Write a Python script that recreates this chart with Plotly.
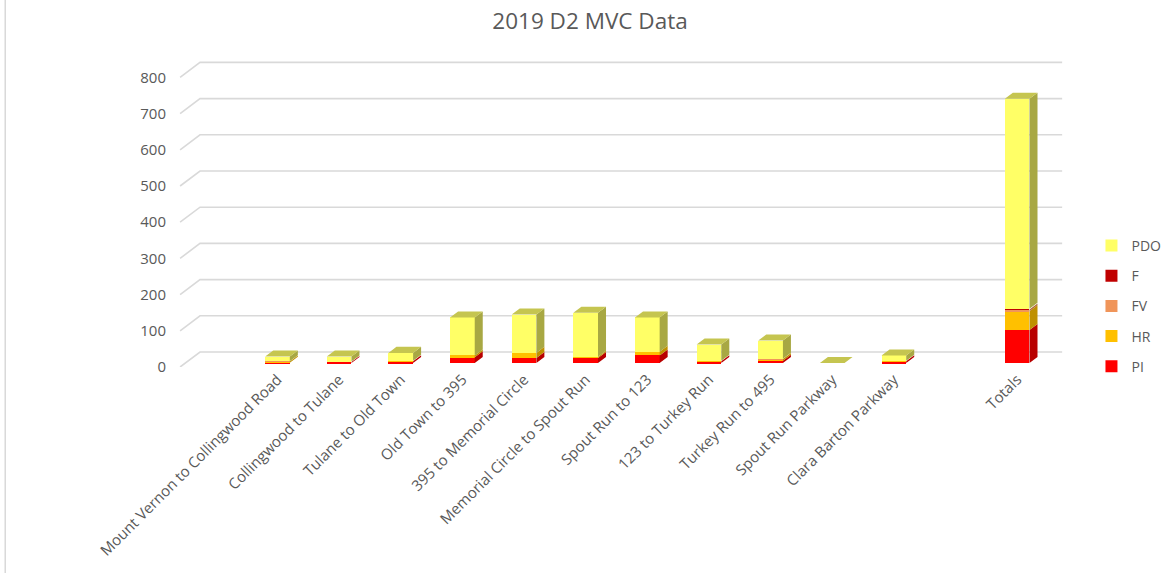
import plotly.graph_objects as go

categories = [" ", "Mount Vernon to Collingwood Road", "Collingwood to Tulane", "Tulane to Old Town",
              "Old Town to 395", "395 to Memorial Circle", "Memorial Circle to Spout Run",
              "Spout Run to 123", "123 to Turkey Run", "Turkey Run to 495", "Spout Run Parkway",
              "Clara Barton Parkway", "  ", "Totals"]
PI  = [None, 1, 3, 5, 16, 14, 14, 21, 5, 6, 0, 5, None, 91]
HR  = [None, 3, 1, 1, 5, 14, 3, 10, 1, 5, 0, 1, None, 52]
FV  = [None, 1, 0, 0, 0, 0, 0, 0, 0, 1, 0, 0, None, 5]
F   = [None, 0, 0, 0, 0, 0, 0, 0, 0, 0, 0, 0, None, 2]
PDO = [None, 13, 14, 22, 105, 106, 122, 95, 45, 50, 0, 15, None, 580]
y_ticks = [0, 100, 200, 300, 400, 500, 600, 700, 800]

series = [  # name, values, front colour, side colour, legend rank
    ("PI", PI, "#FF0000", "#B80000", 5),
    ("HR", HR, "#FFC000", "#BF9000", 4),
    ("FV", FV, "#F0955A", "#B36A3A", 3),
    ("F", F, "#C00000", "#8A0000", 2),
    ("PDO", PDO, "#FFFF66", "#A8A843", 1),
]
TOP_COLOR = "#C5C550"

BAR_W = 0.4
DX = 0.13     # depth offset in category units
DY = 16.6     # depth offset in value units
GRID_BACK_DX = 0.323
GRID_BACK_DY = 30.4
GRID_FRONT_DY = -11
X_LEFT = -0.58
X_RIGHT = 13.73

xs = list(range(len(categories)))
fig = go.Figure()

# back-wall gridlines (3D look), drawn beneath the bars
shapes = []
for v in y_ticks:
    path = (f"M {X_LEFT},{v + GRID_FRONT_DY} L {X_LEFT + GRID_BACK_DX},{v + GRID_BACK_DY} "
            f"L {X_RIGHT},{v + GRID_BACK_DY}")
    shapes.append(dict(type="path", xref="x", yref="y", path=path, layer="below",
                       line=dict(color="#D9D9D9", width=1.6)))

# front faces
for name, vals, col, side, rank in series:
    fig.add_trace(go.Bar(x=xs, y=vals, name=name, width=BAR_W, marker=dict(color=col, line=dict(width=0)),
                         legendgroup=name, legendrank=rank))

# side and top faces
base = [0 if PI[i] is not None else None for i in xs]
for name, vals, col, side, rank in series:
    px, py = [], []
    for i in xs:
        if vals[i] is None:
            continue
        s0 = base[i]
        s1 = s0 + vals[i]
        if vals[i] > 0:
            xr = i + BAR_W / 2
            px += [xr, xr + DX, xr + DX, xr, xr, None]
            py += [s0, s0 + DY, s1 + DY, s1, s0, None]
        base[i] = s1
    fig.add_trace(go.Scatter(x=px, y=py, mode="lines", fill="toself", fillcolor=side,
                             line=dict(width=0, color=side), hoverinfo="skip", showlegend=False))

tx, ty = [], []
for i in xs:
    if base[i] is None:
        continue
    t = base[i]
    xl, xr = i - BAR_W / 2, i + BAR_W / 2
    tx += [xl, xr, xr + DX, xl + DX, xl, None]
    ty += [t, t, t + DY, t + DY, t, None]
fig.add_trace(go.Scatter(x=tx, y=ty, mode="lines", fill="toself", fillcolor=TOP_COLOR,
                         line=dict(width=0, color=TOP_COLOR), hoverinfo="skip", showlegend=False))

FONT = "Open Sans"
W, H = 1175, 573
shapes.append(dict(type="line", xref="paper", yref="paper", x0=-0.195, x1=-0.195, y0=-1, y1=2,
                   line=dict(color="#D9D9D9", width=1.5)))
fig.update_layout(
    width=W, height=H,
    margin=dict(l=178, r=111, t=60, b=206, autoexpand=False),
    paper_bgcolor="white", plot_bgcolor="white",
    barmode="stack",
    title=dict(text="2019 D2 MVC Data", x=590 / W, xref="container", xanchor="center",
               y=1 - 21 / H, yref="container", yanchor="middle",
               font=dict(family=FONT, size=22.5, color="#595959")),
    xaxis=dict(range=[-0.614, 13.76], tickmode="array", tickvals=xs, ticktext=categories,
               tickangle=-45, showgrid=False, zeroline=False, showline=False, ticks="",
               automargin=False,
               tickfont=dict(family=FONT, size=15, color="#595959")),
    yaxis=dict(range=[-11, 837], tickmode="array", tickvals=y_ticks, showgrid=False,
               zeroline=False, showline=False, ticks="", ticklabelshift=4, ticklabelstandoff=11,
               automargin=False,
               tickfont=dict(family=FONT, size=15, color="#595959")),
    legend=dict(x=1.031, xanchor="left", y=0.199, yanchor="middle", traceorder="grouped",
                tracegroupgap=9, font=dict(family=FONT, size=14, color="#595959"),
                itemwidth=30, bgcolor="rgba(0,0,0,0)"),
    shapes=shapes,
    showlegend=True,
)

fig.write_html("out.html", config={"displayModeBar": False},
               post_script="document.body.style.margin='0';")
